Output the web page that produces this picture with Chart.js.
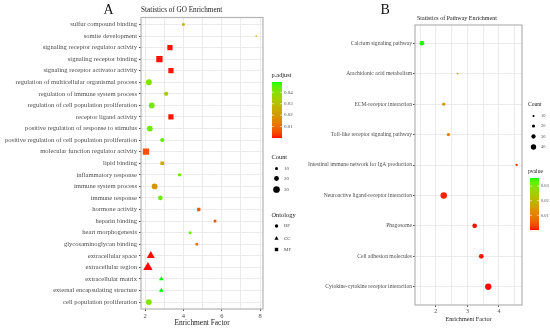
<!DOCTYPE html>
<html><head><meta charset="utf-8">
<script src="https://cdn.jsdelivr.net/npm/chart.js@4/dist/chart.umd.min.js"></script>
<style>
html,body{margin:0;padding:0;background:#fff;width:550px;height:329px;overflow:hidden}
#a{position:absolute;left:0;top:0;width:300px;height:329px}
#b{position:absolute;left:300px;top:0;width:250px;height:329px}
</style></head><body>
<canvas id="a" width="300" height="329"></canvas>
<canvas id="b" width="250" height="329"></canvas>
<script>
// ---------- Panel A data (GO enrichment) ----------
const goTerms = [
  'sulfur compound binding','somite development','signaling receptor regulator activity',
  'signaling receptor binding','signaling receptor activator activity',
  'regulation of multicellular organismal process','regulation of immune system process',
  'regulation of cell population proliferation','receptor ligand activity',
  'positive regulation of response to stimulus','positive regulation of cell population proliferation',
  'molecular function regulator activity','lipid binding','inflammatory response',
  'immune system process','immune response','hormone activity','heparin binding',
  'heart morphogenesis','glycosaminoglycan binding','extracellular space','extracellular region',
  'extracellular matrix','external encapsulating structure','cell population proliferation'
];
const goFactor   = [4.0, 7.8, 3.3, 2.75, 3.35, 2.2, 3.1, 2.35, 3.35, 2.25, 2.9, 2.05, 2.9, 3.8, 2.5, 2.8, 4.8, 5.65, 4.35, 4.7, 2.3, 2.15, 2.85, 2.85, 2.2];
const goCount    = [8, 2, 22, 28, 22, 26, 17, 25, 22, 25, 17, 28, 14, 12, 25, 19, 12, 8, 10, 8, 32, 38, 16, 16, 25];
const goPadj     = [0.026, 0.027, 0.0005, 0.0004, 0.0006, 0.041, 0.033, 0.042, 0.0006, 0.043, 0.044, 0.006, 0.025, 0.044, 0.019, 0.043, 0.008, 0.007, 0.044, 0.010, 0.0002, 0.0001, 0.049, 0.049, 0.041];
const goOntology = ['MF','BP','MF','MF','MF','BP','BP','BP','MF','BP','BP','MF','MF','BP','BP','BP','MF','MF','BP','MF','CC','CC','CC','CC','BP'];
const goXTicks   = [2, 3, 4, 5, 6, 7, 8];
const goXLabels  = [2, 4, 6, 8];
const padjBreaks = [0.01, 0.02, 0.03, 0.04];
const countBreaksA = [10, 20, 30];
const ontologies = ['BP', 'CC', 'MF'];

// ---------- Panel B data (pathway enrichment) ----------
const pathways = [
  'Calcium signaling pathway','Arachidonic acid metabolism','ECM-receptor interaction',
  'Toll-like receptor signaling pathway','Intestinal immune network for IgA production',
  'Neuroactive ligand-receptor interaction','Phagosome','Cell adhesion molecules',
  'Cytokine-cytokine receptor interaction'
];
const pathFactor = [1.56, 2.69, 2.25, 2.4, 4.56, 2.25, 3.23, 3.44, 3.66];
const pathCount  = [36, 6, 21, 21, 12, 50, 34, 34, 48];
const pathPvalue = [0.035, 0.016, 0.015, 0.010, 0.002, 0.0008, 0.0003, 0.0003, 0.0001];
const pathXTicks = [1.5, 2, 2.5, 3, 3.5, 4, 4.5];
const pathXLabels = [2, 3, 4];
const pvalueBreaks = [0.01, 0.02, 0.03];
const countBreaksB = [10, 20, 30, 40];

// ---------- helpers ----------
const SERIF = '"Liberation Serif", "DejaVu Serif", serif';
function s2l(c){c/=255;return c<=0.04045?c/12.92:Math.pow((c+0.055)/1.055,2.4);}
function l2s(c){c=c<=0.0031308?12.92*c:1.055*Math.pow(c,1/2.4)-0.055;return Math.round(Math.max(0,Math.min(1,c))*255);}
function rgb2lab(rgb){
  const r=s2l(rgb[0]),g=s2l(rgb[1]),b=s2l(rgb[2]);
  const X=(0.4124*r+0.3576*g+0.1805*b)/0.95047,Y=0.2126*r+0.7152*g+0.0722*b,Z=(0.0193*r+0.1192*g+0.9505*b)/1.08883;
  const f=t=>t>0.008856?Math.cbrt(t):7.787*t+16/116;
  return [116*f(Y)-16,500*(f(X)-f(Y)),200*(f(Y)-f(Z))];
}
function lab2rgb(L,a,bb){
  const fy=(L+16)/116,fx=fy+a/500,fz=fy-bb/200;
  const fi=t=>t*t*t>0.008856?t*t*t:(t-16/116)/7.787;
  const X=fi(fx)*0.95047,Y=fi(fy),Z=fi(fz)*1.08883;
  const r=3.2406*X-1.5372*Y-0.4986*Z,g=-0.9689*X+1.8758*Y+0.0415*Z,b=0.0557*X-0.2040*Y+1.0570*Z;
  return 'rgb('+l2s(r)+','+l2s(g)+','+l2s(b)+')';
}
const LOW=rgb2lab([255,0,0]), HIGH=rgb2lab([0,255,0]);
function grad(p,lo,hi){
  let t=(p-lo)/(hi-lo); t=Math.max(0,Math.min(1,t));
  return lab2rgb(LOW[0]+(HIGH[0]-LOW[0])*t,LOW[1]+(HIGH[1]-LOW[1])*t,LOW[2]+(HIGH[2]-LOW[2])*t);
}
const diamA = c => 3 + (c - 10) * 0.185;
const diamB = c => 1 + 0.11 * c;
const shapeOf = {BP:'circle', CC:'triangle', MF:'rect'};
function radiusFor(shape, d){
  if (shape==='rect') return d/Math.SQRT2;
  if (shape==='triangle') return d*0.66;
  return d/2;
}
const LIM_A=[0,0.049], LIM_B=[0,0.0355];

function drawShape(ctx, shape, x, y, d){
  ctx.beginPath();
  if (shape==='circle'){ ctx.arc(x,y,d/2,0,Math.PI*2); }
  else if (shape==='rect'){ ctx.rect(x-d/2,y-d/2,d,d); }
  else { const r=d*0.66; ctx.moveTo(x,y-r); ctx.lineTo(x+r*0.866,y+r*0.5); ctx.lineTo(x-r*0.866,y+r*0.5); ctx.closePath(); }
  ctx.fill();
}
function colorbar(ctx, x, top, w, h, lo, hi){
  for (let i=0;i<h;i++){
    const p = hi - (i+0.5)/h*(hi-lo);
    ctx.fillStyle = grad(p,lo,hi);
    ctx.fillRect(x, top+i, w, 1.05);
  }
}
const boxPlugin = {
  id:'box',
  afterDatasetsDraw(chart){
    const {ctx, chartArea:a} = chart;
    ctx.save(); ctx.strokeStyle='#b3b3b3'; ctx.lineWidth=1.2;
    ctx.strokeRect(a.left, a.top, a.right-a.left, a.bottom-a.top); ctx.restore();
  }
};

function gridColor(){ return '#ebebeb'; }

function makeX(min,max,ticks,labels,h,fs,titleSize,titleBottom){
  return {
    type:'linear', min:min, max:max,
    afterBuildTicks: ax => { ax.ticks = ticks.map(v=>({value:v})); },
    afterFit: ax => { ax.height = h; },
    ticks:{ autoSkip:false, maxRotation:0, padding:1, color:'#4d4d4d',
      font:{family:SERIF,size:fs},
      callback: v => labels.includes(v) ? String(v) : '' },
    grid:{ color:'#ebebeb', lineWidth:1, tickLength:2,
      tickColor: c => (c.tick && labels.includes(c.tick.value)) ? '#555' : 'rgba(0,0,0,0)' },
    border:{display:false},
    title:{display:true, text:'Enrichment Factor', color:'#222',
      font:{family:SERIF,size:titleSize}, padding:{top:0,bottom:titleBottom}}
  };
}
function makeY(labels,w,fs,pad){
  return {
    type:'linear', min:-0.6, max:labels.length-1+0.6, reverse:true,
    afterBuildTicks: ax => { ax.ticks = labels.map((_,i)=>({value:i})); },
    afterFit: ax => { ax.width = w; },
    ticks:{ autoSkip:false, padding:pad, color:'#4d4d4d', font:{family:SERIF,size:fs},
      callback: v => labels[v] },
    grid:{ color:'#ebebeb', lineWidth:1, tickLength:2, tickColor:'#555' },
    border:{display:false}
  };
}

// ---------- Chart A ----------
const dsA = ontologies.map(o => {
  const idx = goTerms.map((_,i)=>i).filter(i=>goOntology[i]===o);
  const shape = shapeOf[o];
  return {
    label:o, pointStyle:shape,
    data: idx.map(i=>({x:goFactor[i], y:i})),
    pointRadius: idx.map(i=>radiusFor(shape, diamA(goCount[i]))),
    backgroundColor: idx.map(i=>grad(goPadj[i],LIM_A[0],LIM_A[1])),
    borderWidth:0, pointHoverRadius: idx.map(i=>radiusFor(shape, diamA(goCount[i])))
  };
});
const decoA = {
  id:'decoA',
  afterDraw(chart){
    const ctx = chart.ctx; ctx.save();
    ctx.fillStyle='#111'; ctx.textBaseline='alphabetic'; ctx.textAlign='left';
    ctx.font='14px '+SERIF; ctx.fillText('A',103.5,13.5);
    ctx.font='7.2px '+SERIF; ctx.fillStyle='#222'; ctx.fillText('Statistics of GO Enrichment',141,11.5);
    // p.adjust legend
    ctx.font='6.4px '+SERIF; ctx.fillStyle='#222'; ctx.textBaseline='middle';
    ctx.fillText('p.adjust',271.5,75.5);
    const top=82,h=56,bx=272,bw=10;
    colorbar(ctx,bx,top,bw,h,LIM_A[0],LIM_A[1]);
    ctx.font='5px '+SERIF; ctx.fillStyle='#4d4d4d';
    padjBreaks.forEach(b=>{
      const y = top+h - (b-LIM_A[0])/(LIM_A[1]-LIM_A[0])*h;
      ctx.strokeStyle='#fff'; ctx.lineWidth=0.6;
      ctx.beginPath(); ctx.moveTo(bx,y); ctx.lineTo(bx+2,y); ctx.moveTo(bx+bw-2,y); ctx.lineTo(bx+bw,y); ctx.stroke();
      ctx.fillText(b.toFixed(2),284,y);
    });
    // Count legend
    ctx.font='6.4px '+SERIF; ctx.fillStyle='#222';
    ctx.fillText('Count',271.5,157.5);
    const cy=[168.5,178.5,189.5];
    countBreaksA.forEach((c,i)=>{
      ctx.fillStyle='#000'; drawShape(ctx,'circle',276.5,cy[i],diamA(c));
      ctx.fillStyle='#4d4d4d'; ctx.font='5px '+SERIF; ctx.fillText(String(c),284,cy[i]);
    });
    // Ontology legend
    ctx.font='6.4px '+SERIF; ctx.fillStyle='#222';
    ctx.fillText('Ontology',271.5,215.5);
    const oy=[226,238.5,249.5];
    ontologies.forEach((o,i)=>{
      ctx.fillStyle='#000'; drawShape(ctx,shapeOf[o],276.5,oy[i],o==='CC'?3.6:3.4);
      ctx.fillStyle='#4d4d4d'; ctx.font='5px '+SERIF; ctx.fillText(o,284,oy[i]);
    });
    ctx.restore();
  }
};
new Chart(document.getElementById('a'), {
  type:'scatter',
  data:{datasets:dsA},
  options:{
    responsive:false, animation:false, devicePixelRatio:1,
    layout:{padding:{left:0,right:37,top:17.5,bottom:0}},
    plugins:{legend:{display:false}, tooltip:{enabled:false}},
    scales:{ x: makeX(1.79,8.15,goXTicks,goXLabels,20,6.5,7.4,1), y: makeY(goTerms,141,6.6,2) }
  },
  plugins:[boxPlugin, decoA]
});

// ---------- Chart B ----------
const dsB = [{
  label:'pathways', pointStyle:'circle',
  data: pathways.map((_,i)=>({x:pathFactor[i], y:i})),
  pointRadius: pathCount.map(c=>diamB(c)/2),
  pointHoverRadius: pathCount.map(c=>diamB(c)/2),
  backgroundColor: pathPvalue.map(p=>grad(p,LIM_B[0],LIM_B[1])),
  borderWidth:0
}];
const decoB = {
  id:'decoB',
  afterDraw(chart){
    const ctx = chart.ctx; ctx.save();
    ctx.fillStyle='#111'; ctx.textBaseline='alphabetic'; ctx.textAlign='left';
    ctx.font='14px '+SERIF; ctx.fillText('B',80.5,13.5);
    ctx.font='6px '+SERIF; ctx.fillStyle='#222'; ctx.fillText('Statistics of Pathway Enrichment',117,20);
    ctx.textBaseline='middle';
    // Count legend
    ctx.font='5.6px '+SERIF; ctx.fillStyle='#222';
    ctx.fillText('Count',228,105);
    const cy=[116,126,136.5,147];
    countBreaksB.forEach((c,i)=>{
      ctx.fillStyle='#000'; drawShape(ctx,'circle',233.5,cy[i],diamB(c));
      ctx.fillStyle='#4d4d4d'; ctx.font='4.4px '+SERIF; ctx.fillText(String(c),241,cy[i]);
    });
    // pvalue legend
    ctx.font='5.6px '+SERIF; ctx.fillStyle='#222';
    ctx.fillText('pvalue',228,171.5);
    const top=178,h=52,bx=230,bw=9;
    colorbar(ctx,bx,top,bw,h,LIM_B[0],LIM_B[1]);
    ctx.font='4.4px '+SERIF; ctx.fillStyle='#4d4d4d';
    pvalueBreaks.forEach(b=>{
      const y = top+h - (b-LIM_B[0])/(LIM_B[1]-LIM_B[0])*h;
      ctx.strokeStyle='#fff'; ctx.lineWidth=0.6;
      ctx.beginPath(); ctx.moveTo(bx,y); ctx.lineTo(bx+2,y); ctx.moveTo(bx+bw-2,y); ctx.lineTo(bx+bw,y); ctx.stroke();
      ctx.fillText(b.toFixed(2),241,y);
    });
    ctx.restore();
  }
};
new Chart(document.getElementById('b'), {
  type:'scatter',
  data:{datasets:dsB},
  options:{
    responsive:false, animation:false, devicePixelRatio:1,
    layout:{padding:{left:0,right:28,top:25,bottom:0}},
    plugins:{legend:{display:false}, tooltip:{enabled:false}},
    scales:{ x: makeX(1.34,4.73,pathXTicks,pathXLabels,24,6,6.2,6), y: makeY(pathways,115,5.6,1) }
  },
  plugins:[boxPlugin, decoB]
});
</script>
</body></html>
